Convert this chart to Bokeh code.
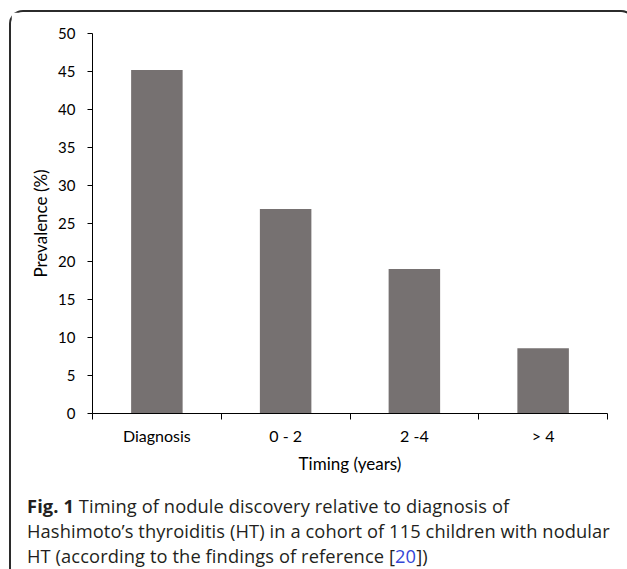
from bokeh.plotting import figure
from bokeh.models import Range1d, FixedTicker, Div, ColumnDataSource, Spacer
from bokeh.layouts import column, row
from bokeh.embed import file_html
from bokeh.resources import INLINE

# ---- data ----
categories = ["Diagnosis", "0 - 2", "2 -4", "> 4"]
prevalence = [45.2, 26.9, 19.0, 8.6]
y_ticks = [0, 5, 10, 15, 20, 25, 30, 35, 40, 45, 50]
x_title = "Timing (years)"
y_title = "Prevalence (%)"

x_pos = [i + 0.5 for i in range(len(categories))]
bounds = [float(i) for i in range(len(categories) + 1)]
src = ColumnDataSource(dict(x=x_pos, top=prevalence, cat=categories))

CHART_FONT = "Lato"

p = figure(width=612, height=476,
           x_range=Range1d(0, len(categories)), y_range=Range1d(0, 50),
           output_backend="svg", toolbar_location=None,
           min_border_left=81, min_border_right=16,
           min_border_top=21, min_border_bottom=75)
p.outline_line_color = None
p.xgrid.grid_line_color = None
p.ygrid.grid_line_color = None
p.background_fill_color = "white"
p.border_fill_color = "white"

p.vbar(x="x", top="top", width=0.4, source=src,
       fill_color="#767171", line_color=None)

# y axis
ya = p.yaxis[0]
ya.ticker = FixedTicker(ticks=y_ticks)
ya.axis_line_color = "black"
ya.axis_line_width = 1
ya.major_tick_in = 0
ya.major_tick_out = 5
ya.major_tick_line_color = "black"
ya.minor_tick_line_color = None
ya.major_label_standoff = 12
ya.major_label_text_font = CHART_FONT
ya.major_label_text_font_size = "15px"
ya.major_label_text_color = "black"
ya.axis_label = y_title
ya.axis_label_text_font = CHART_FONT
ya.axis_label_text_font_size = "17px"
ya.axis_label_text_font_style = "normal"
ya.axis_label_text_color = "black"
ya.axis_label_standoff = 4

# x axis: labels at category centres, ticks at boundaries
xa = p.xaxis[0]
xa.ticker = FixedTicker(ticks=x_pos, minor_ticks=bounds)
xa.major_label_overrides = {x: c for x, c in zip(x_pos, categories)}
xa.axis_line_color = "black"
xa.axis_line_width = 1
xa.major_tick_line_color = None
xa.major_tick_in = 0
xa.major_tick_out = 0
xa.minor_tick_line_color = "black"
xa.minor_tick_in = 0
xa.minor_tick_out = 6
xa.major_label_standoff = 6
xa.major_label_text_font = CHART_FONT
xa.major_label_text_font_size = "16px"
xa.major_label_text_color = "black"
xa.axis_label = x_title
xa.axis_label_text_font = CHART_FONT
xa.axis_label_text_font_size = "17px"
xa.axis_label_text_font_style = "normal"
xa.axis_label_text_color = "black"
xa.axis_label_standoff = 5

caption_html = (
    '<div style="padding-left:11px;font-family:\'Open Sans\';font-size:18.3px;'
    'letter-spacing:0.1px;line-height:25px;color:#231f20;white-space:nowrap;">'
    '<span style="font-weight:bold">Fig. 1</span> Timing of nodule discovery relative to diagnosis of<br>'
    'Hashimoto\u2019s thyroiditis (HT) in a cohort of 115 children with nodular<br>'
    'HT (according to the findings of reference [<span style="color:#3446d6">20</span>])'
    '</div>'
)
div = Div(text=caption_html, width=612, height=78)

boxed = column(p, div, styles={
    "border-top": "2px solid #2b2b2b",
    "border-left": "2px solid #2b2b2b",
    "border-right": "2px solid #2b2b2b",
    "border-top-left-radius": "14px",
    "border-top-right-radius": "14px",
})

layout = row(Spacer(width=9, height=10), column(Spacer(width=10, height=10), boxed))

open("out.html", "w").write(file_html(layout, INLINE))
